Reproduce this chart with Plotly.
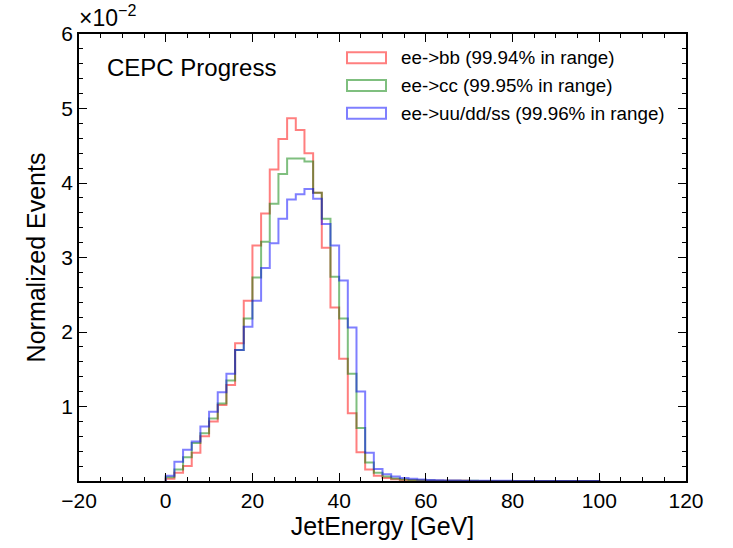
import numpy as np
import plotly.graph_objects as go

# ---- data (normalized events, in units of 1e-2), 2 GeV bins from 0 to 100 GeV ----
bin_edges = list(range(0, 102, 2))

bb = [0.03, 0.11, 0.20, 0.38, 0.60, 0.80, 1.02, 1.29, 1.85, 2.42,
      3.16, 3.59, 4.18, 4.59, 4.87, 4.71, 4.40, 3.87, 3.13, 2.33,
      1.64, 0.91, 0.385, 0.155, 0.07, 0.04, 0.025, 0.015, 0.010, 0.007,
      0.005, 0.004, 0.003, 0.002, 0.002, 0.0015, 0.001, 0.001, 0.001, 0.0008,
      0.0008, 0.0006, 0.0006, 0.0005, 0.0005, 0.0004, 0.0004, 0.0003, 0.0003, 0.0003]

cc = [0.05, 0.155, 0.32, 0.51, 0.64, 0.84, 1.04, 1.35, 1.76, 2.18,
      2.73, 3.21, 3.72, 4.12, 4.33, 4.33, 4.29, 3.87, 3.52, 2.74,
      2.18, 1.44, 0.71, 0.25, 0.11, 0.06, 0.035, 0.02, 0.013, 0.009,
      0.006, 0.005, 0.004, 0.003, 0.002, 0.002, 0.0015, 0.001, 0.001, 0.001,
      0.0008, 0.0008, 0.0006, 0.0006, 0.0005, 0.0005, 0.0004, 0.0004, 0.0003, 0.0003]

uds = [0.07, 0.26, 0.42, 0.53, 0.73, 0.93, 1.19, 1.44, 1.76, 2.07,
       2.42, 2.86, 3.19, 3.52, 3.78, 3.85, 3.92, 3.79, 3.45, 3.16,
       2.69, 2.06, 1.20, 0.38, 0.16, 0.09, 0.06, 0.04, 0.03, 0.02,
       0.015, 0.01, 0.008, 0.006, 0.005, 0.004, 0.003, 0.003, 0.002, 0.002,
       0.0015, 0.0015, 0.001, 0.001, 0.001, 0.0008, 0.0008, 0.0006, 0.0006, 0.0005]

labels = ["ee->bb (99.94% in range)",
          "ee->cc (99.95% in range)",
          "ee->uu/dd/ss (99.96% in range)"]
colors = ["rgba(255,0,0,0.5)", "rgba(0,128,0,0.5)", "rgba(0,0,255,0.5)"]
series = [bb, cc, uds]

x_tickvals = [-20, 0, 20, 40, 60, 80, 100, 120]
x_ticktext = ["\u221220", "0", "20", "40", "60", "80", "100", "120"]
y_tickvals = [0.01, 0.02, 0.03, 0.04, 0.05, 0.06]
y_ticktext = ["1", "2", "3", "4", "5", "6"]

FONT = "Liberation Sans, Arial, Helvetica, sans-serif"

fig = go.Figure()
for vals, col, lab in zip(series, colors, labels):
    v = np.array(vals) / 100.0
    xs = [bin_edges[0]] + bin_edges[:-1] + [bin_edges[-1], bin_edges[-1]]
    ys = [0.0] + list(v) + [v[-1], 0.0]
    fig.add_trace(go.Scatter(x=xs, y=ys, mode="lines", line=dict(color=col, width=2, shape="hv"),
                             name=lab, showlegend=False, hoverinfo="skip"))

# manual legend (outlined rectangles like matplotlib step-hist handles)
L, R, T, B = 79, 686, 34, 485
W, H = R - L, B - T
def px2paper(px, py):
    return (px - L) / W, (B - py) / H

rows_py = [58, 86, 114]
shapes = []
annotations = []
for py, col, lab in zip(rows_py, colors, labels):
    x0, y0 = px2paper(347, py + 5.5)
    x1, y1 = px2paper(386, py - 5.5)
    shapes.append(dict(type="rect", xref="paper", yref="paper", x0=x0, x1=x1, y0=y0, y1=y1,
                       line=dict(color=col, width=2), fillcolor="rgba(0,0,0,0)"))
    tx, ty = px2paper(399, py)
    annotations.append(dict(text=lab, xref="paper", yref="paper", x=tx, y=ty, xanchor="left",
                            yanchor="middle", showarrow=False, font=dict(size=18.8, color="black", family=FONT)))

cx, cy = px2paper(105, 68)
annotations.append(dict(text="CEPC Progress", xref="paper", yref="paper", x=cx, y=cy, xanchor="left",
                        yanchor="middle", showarrow=False, font=dict(size=24, color="black", family=FONT)))
annotations.append(dict(text="\u00d710<sup>\u22122</sup>", xref="paper", yref="paper", x=0.0, y=1.0,
                        xanchor="left", yanchor="bottom", yshift=1, xshift=-2, showarrow=False,
                        font=dict(size=23, color="black", family=FONT)))

axis_common = dict(showline=True, linecolor="black", linewidth=1.5, mirror="allticks",
                   ticks="inside", ticklen=8, tickwidth=1.2, tickcolor="black",
                   showgrid=False, zeroline=False,
                   tickfont=dict(size=21, color="black", family=FONT))

fig.update_layout(
    width=733, height=548,
    margin=dict(l=L, r=733 - R, t=T, b=548 - B),
    plot_bgcolor="white", paper_bgcolor="white",
    shapes=shapes, annotations=annotations,
    xaxis=dict(range=[-20, 120], tickvals=x_tickvals, ticktext=x_ticktext,
               minor=dict(ticks="inside", dtick=5, tick0=0, ticklen=4, tickcolor="black", tickwidth=1),
               title=dict(text="JetEnergy [GeV]", font=dict(size=25, color="black", family=FONT), standoff=7),
               **axis_common),
    yaxis=dict(range=[0, 0.06], tickvals=y_tickvals, ticktext=y_ticktext,
               minor=dict(ticks="inside", dtick=0.002, tick0=0, ticklen=4, tickcolor="black", tickwidth=1),
               title=dict(text="Normalized Events", font=dict(size=25, color="black", family=FONT), standoff=9),
               **axis_common),
)

fig.write_html("out.html")
